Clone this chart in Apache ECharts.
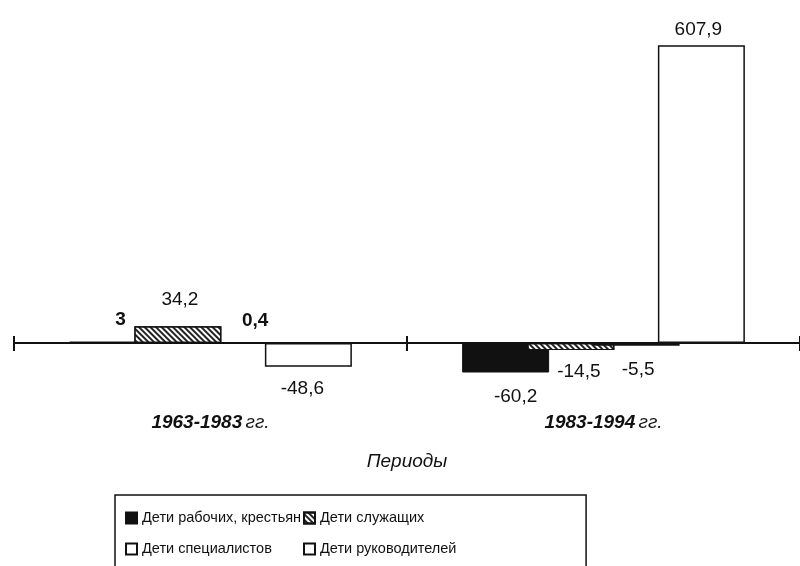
<!DOCTYPE html>
<html>
<head>
<meta charset="utf-8">
<script src="https://cdn.jsdelivr.net/npm/echarts@6/dist/echarts.min.js"></script>
<style>
  html, body { margin: 0; padding: 0; background: #fff; }
  #chart { width: 800px; height: 566px; }
</style>
</head>
<body>
<div id="chart"></div>
<script>
// периоды
const categories = ["1963-1983", "1983-1994"];
const seriesNames = [
  "Дети рабочих, крестьян",
  "Дети служащих",
  "Дети специалистов",
  "Дети руководителей",
];
const workers = [3, -60.2];
const employees = [34.2, -14.5];
const specialists = [0.4, -5.5];
const leaders = [-48.6, 607.9];

const fmt = (p) => String(p.value).replace(".", ",");
const fontFamily = "Liberation Sans, Arial, sans-serif";

// label tweak per bar: [position, distance, bold, dx]
function withLabels(values, cfg) {
  return values.map((v, i) => ({
    value: v,
    label: {
      position: cfg[i][0],
      distance: cfg[i][1],
      fontWeight: cfg[i][2] ? "bold" : "normal",
      offset: [cfg[i][3] || 0, 0],
    },
  }));
}

const legendText = { fontSize: 14.5, color: "#111", lineHeight: 28, fontFamily: fontFamily };

const chart = echarts.init(document.getElementById("chart"));
const option = {
  animation: false,
  textStyle: { fontFamily: fontFamily },
  // two columns, each one item wide so they wrap into rows
  legend: [
    {
      left: 115,
      top: 495,
      orient: "horizontal",
      width: 170,
      padding: [9, 285, 15, 10],
      itemGap: 3,
      itemWidth: 11,
      itemHeight: 11,
      icon: "rect",
      borderColor: "#111",
      borderWidth: 1.5,
      textStyle: legendText,
      data: [seriesNames[0], seriesNames[2]],
    },
    {
      left: 293,
      top: 495,
      orient: "horizontal",
      width: 150,
      padding: [9, 0, 15, 10],
      itemGap: 3,
      itemWidth: 11,
      itemHeight: 11,
      icon: "rect",
      textStyle: legendText,
      data: [seriesNames[1], seriesNames[3]],
    },
  ],
  grid: { left: 14, right: -10, top: 0, bottom: 174 },
  xAxis: [
    {
      type: "category",
      data: categories,
      axisLine: { lineStyle: { color: "#111", width: 2 } },
      axisTick: { show: true, interval: 0, lineStyle: { color: "#111", width: 2 }, length: 8 },
      axisLabel: {
        margin: 21,
        formatter: (v) => "{b|" + v + "} {i|гг.}",
        rich: {
          b: { fontSize: 19, fontStyle: "italic", fontWeight: "bold", color: "#111", fontFamily: fontFamily },
          i: { fontSize: 19, fontStyle: "italic", color: "#111", fontFamily: fontFamily },
        },
      },
      name: "Периоды",
      nameLocation: "middle",
      nameGap: 60,
      nameTextStyle: { fontSize: 19, fontStyle: "italic", color: "#111", fontFamily: fontFamily },
    },
    {
      // upper half of the boundary ticks, lifted onto the zero line
      type: "category",
      data: categories,
      position: "bottom",
      offset: -49,
      axisLine: { show: false },
      axisTick: { show: true, interval: 0, inside: true, lineStyle: { color: "#111", width: 2 }, length: 7 },
      axisLabel: { show: false },
    },
  ],
  yAxis: {
    type: "value",
    min: -100,
    max: 700,
    show: false,
    splitLine: { show: false },
  },
  series: [
    {
      name: seriesNames[0],
      type: "bar",
      barWidth: 87,
      barGap: "-25%",
      itemStyle: { color: "#111", borderColor: "#111", borderWidth: 1 },
      label: { show: true, formatter: fmt, fontSize: 19, color: "#111" },
      data: withLabels(workers, [["top", 12, true, 8], ["bottom", 15, false, 10]]),
    },
    {
      name: seriesNames[1],
      type: "bar",
      barWidth: 87,
      barGap: "-25%",
      itemStyle: {
        color: "#fff",
        borderColor: "#111",
        borderWidth: 1.2,
        decal: {
          symbol: "rect",
          symbolSize: 1,
          color: "#222",
          dashArrayX: [1, 0],
          dashArrayY: [1.2, 1.6],
          rotation: Math.PI / 4,
        },
      },
      label: { show: true, formatter: fmt, fontSize: 19, color: "#111" },
      data: withLabels(employees, [["top", 17, false, 2], ["bottom", 12, false, 8]]),
    },
    {
      name: seriesNames[2],
      type: "bar",
      barWidth: 87,
      barGap: "-25%",
      itemStyle: { color: "#fff", borderColor: "#111", borderWidth: 1.5 },
      label: { show: true, formatter: fmt, fontSize: 19, color: "#111" },
      data: withLabels(specialists, [["top", 12, true, 12], ["bottom", 15, false, 2]]),
    },
    {
      name: seriesNames[3],
      type: "bar",
      barWidth: 87,
      barGap: "-25%",
      itemStyle: { color: "#fff", borderColor: "#111", borderWidth: 1.5 },
      label: { show: true, formatter: fmt, fontSize: 19, color: "#111" },
      data: withLabels(leaders, [["bottom", 12, false, -6], ["top", 6, false, -3]]),
    },
  ],
};
chart.setOption(option);
</script>
</body>
</html>
